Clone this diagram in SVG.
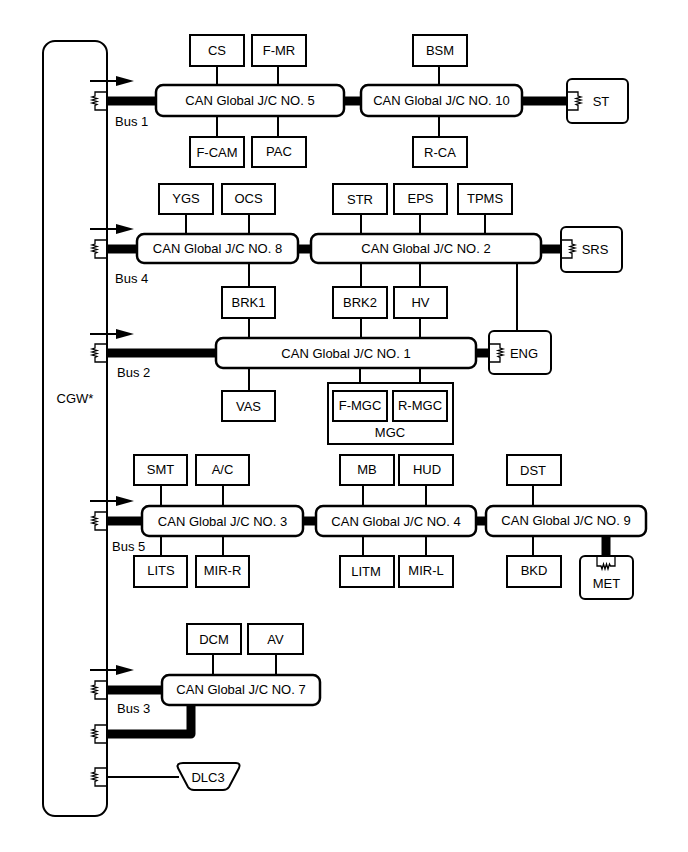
<svg xmlns="http://www.w3.org/2000/svg" width="688" height="852" viewBox="0 0 688 852">
<defs>
<style>
text{font-family:"Liberation Sans",Arial,sans-serif;font-size:13px;fill:#000;}
.c{text-anchor:middle;}
.box{fill:#fff;stroke:#000;stroke-width:2;}
.jc{fill:#fff;stroke:#000;stroke-width:2.5;}
.ln{fill:none;stroke:#000;stroke-width:2;}
.bus{fill:none;stroke:#000;stroke-width:9;}
.res{fill:none;stroke:#000;stroke-width:1.3;}
</style>
<g id="resL">
<path class="res" d="M12,-9 H0 V-5 L-3,-4 L2,-2.5 L-3,-1 L2,0.5 L-3,2 L2,3.5 L0,4.5 V9 H12"/>
</g>
<g id="resR">
<path class="res" d="M0,-9 H11 V-5 L14,-4 L9,-2.5 L14,-1 L9,0.5 L14,2 L9,3.5 L11,4.5 V9 H0"/>
</g>
<g id="arrow">
<line x1="90" y1="0" x2="120" y2="0" stroke="#000" stroke-width="2"/>
<polygon points="116,-5 134,0 116,5" fill="#000"/>
</g>
</defs>
<rect width="688" height="852" fill="#fff"/>

<g id="CGW">
<rect class="box" x="43" y="41" width="64" height="775" rx="12"/>
<text x="75" y="403" class="c">CGW*</text>
<use href="#resL" x="95" y="101"/>
<use href="#resL" x="95" y="249"/>
<use href="#resL" x="95" y="353"/>
<use href="#resL" x="95" y="521"/>
<use href="#resL" x="95" y="690"/>
<use href="#resL" x="95" y="734"/>
<use href="#resL" x="95" y="777"/>
</g>

<g id="connectors">
<!-- thick bus lines -->
<line class="bus" x1="107" y1="101" x2="157" y2="101"/>
<line class="bus" x1="343" y1="101" x2="362" y2="101"/>
<line class="bus" x1="521" y1="101" x2="568" y2="101"/>
<line class="bus" x1="107" y1="249" x2="138" y2="249"/>
<line class="bus" x1="297" y1="249" x2="312" y2="249"/>
<line class="bus" x1="540" y1="249" x2="562" y2="249"/>
<line class="bus" x1="107" y1="353" x2="217" y2="353"/>
<line class="bus" x1="475" y1="353" x2="490" y2="353"/>
<line class="bus" x1="107" y1="521" x2="143" y2="521"/>
<line class="bus" x1="302" y1="521" x2="317" y2="521"/>
<line class="bus" x1="475" y1="521" x2="487" y2="521"/>
<line class="bus" x1="606" y1="535" x2="606" y2="557"/>
<line class="bus" x1="107" y1="690" x2="163" y2="690"/>
<path class="bus" d="M107,734 H191 V704" stroke-linejoin="round"/>
<line class="ln" x1="107" y1="777" x2="179" y2="777"/>
<!-- thin stubs -->
<line class="ln" x1="217" y1="66" x2="217" y2="85"/>
<line class="ln" x1="278" y1="66" x2="278" y2="85"/>
<line class="ln" x1="217" y1="116" x2="217" y2="137"/>
<line class="ln" x1="278" y1="116" x2="278" y2="137"/>
<line class="ln" x1="439" y1="66" x2="439" y2="85"/>
<line class="ln" x1="439" y1="116" x2="439" y2="137"/>
<line class="ln" x1="186" y1="214" x2="186" y2="234"/>
<line class="ln" x1="249" y1="214" x2="249" y2="234"/>
<line class="ln" x1="361" y1="214" x2="361" y2="234"/>
<line class="ln" x1="420" y1="214" x2="420" y2="234"/>
<line class="ln" x1="485" y1="214" x2="485" y2="234"/>
<line class="ln" x1="249" y1="263" x2="249" y2="287"/>
<line class="ln" x1="361" y1="263" x2="361" y2="287"/>
<line class="ln" x1="420" y1="263" x2="420" y2="287"/>
<line class="ln" x1="517" y1="263" x2="517" y2="331"/>
<line class="ln" x1="249" y1="318" x2="249" y2="338"/>
<line class="ln" x1="361" y1="318" x2="361" y2="338"/>
<line class="ln" x1="420" y1="318" x2="420" y2="338"/>
<line class="ln" x1="249" y1="368" x2="249" y2="391"/>
<line class="ln" x1="360" y1="368" x2="360" y2="391"/>
<line class="ln" x1="420" y1="368" x2="420" y2="391"/>
<line class="ln" x1="161" y1="485" x2="161" y2="506"/>
<line class="ln" x1="223" y1="485" x2="223" y2="506"/>
<line class="ln" x1="363" y1="485" x2="363" y2="506"/>
<line class="ln" x1="426" y1="485" x2="426" y2="506"/>
<line class="ln" x1="533" y1="485" x2="533" y2="506"/>
<line class="ln" x1="161" y1="536" x2="161" y2="556"/>
<line class="ln" x1="223" y1="536" x2="223" y2="556"/>
<line class="ln" x1="363" y1="536" x2="363" y2="556"/>
<line class="ln" x1="426" y1="536" x2="426" y2="556"/>
<line class="ln" x1="533" y1="536" x2="533" y2="556"/>
<line class="ln" x1="213" y1="654" x2="213" y2="675"/>
<line class="ln" x1="276" y1="654" x2="276" y2="675"/>
<!-- arrows -->
<use href="#arrow" y="81"/>
<use href="#arrow" y="229"/>
<use href="#arrow" y="334"/>
<use href="#arrow" y="501"/>
<use href="#arrow" y="670"/>
</g>

<g id="bus-labels">
<text x="115" y="126">Bus 1</text>
<text x="115" y="283">Bus 4</text>
<text x="117" y="377">Bus 2</text>
<text x="112" y="551">Bus 5</text>
<text x="117" y="713">Bus 3</text>
</g>

<g id="JC5"><rect class="jc" x="156" y="85" width="188" height="31" rx="7"/><text x="250" y="105" class="c">CAN Global J/C NO. 5</text></g>
<g id="JC10"><rect class="jc" x="361" y="85" width="161" height="31" rx="7"/><text x="441.5" y="105" class="c">CAN Global J/C NO. 10</text></g>
<g id="CS"><rect class="box" x="190" y="35" width="54" height="31"/><text x="217" y="55" class="c">CS</text></g>
<g id="F-MR"><rect class="box" x="252" y="35" width="54" height="31"/><text x="279" y="55" class="c">F-MR</text></g>
<g id="F-CAM"><rect class="box" x="190" y="137" width="54" height="30"/><text x="217" y="157" class="c">F-CAM</text></g>
<g id="PAC"><rect class="box" x="252" y="137" width="54" height="30"/><text x="279" y="156" class="c">PAC</text></g>
<g id="BSM"><rect class="box" x="413" y="35" width="54" height="31"/><text x="440" y="55" class="c">BSM</text></g>
<g id="R-CA"><rect class="box" x="413" y="137" width="54" height="30"/><text x="440" y="157" class="c">R-CA</text></g>
<g id="ST"><rect class="box" x="567" y="79" width="61" height="44" rx="5"/><use href="#resR" x="567" y="101"/><text x="601" y="106" class="c">ST</text></g>

<g id="JC8"><rect class="jc" x="137" y="234" width="161" height="29" rx="7"/><text x="217.5" y="253" class="c">CAN Global J/C NO. 8</text></g>
<g id="JC2"><rect class="jc" x="311" y="234" width="230" height="29" rx="7"/><text x="426" y="253" class="c">CAN Global J/C NO. 2</text></g>
<g id="YGS"><rect class="box" x="159" y="184" width="54" height="30"/><text x="186" y="203" class="c">YGS</text></g>
<g id="OCS"><rect class="box" x="222" y="184" width="53" height="30"/><text x="248.5" y="203" class="c">OCS</text></g>
<g id="STR"><rect class="box" x="333" y="184" width="54" height="30"/><text x="360" y="204" class="c">STR</text></g>
<g id="EPS"><rect class="box" x="394" y="184" width="53" height="30"/><text x="420.5" y="203" class="c">EPS</text></g>
<g id="TPMS"><rect class="box" x="458" y="184" width="54" height="30"/><text x="485" y="203" class="c">TPMS</text></g>
<g id="BRK1"><rect class="box" x="222" y="287" width="53" height="31"/><text x="248.5" y="307" class="c">BRK1</text></g>
<g id="BRK2"><rect class="box" x="333" y="287" width="54" height="31"/><text x="360" y="307" class="c">BRK2</text></g>
<g id="HV"><rect class="box" x="394" y="287" width="53" height="31"/><text x="420.5" y="307" class="c">HV</text></g>
<g id="SRS"><rect class="box" x="561" y="227" width="61" height="45" rx="5"/><use href="#resR" x="561" y="249"/><text x="595" y="254" class="c">SRS</text></g>

<g id="JC1"><rect class="jc" x="216" y="338" width="260" height="30" rx="7"/><text x="346" y="358" class="c">CAN Global J/C NO. 1</text></g>
<g id="ENG"><rect class="box" x="489" y="331" width="62" height="43" rx="5"/><use href="#resR" x="489" y="353"/><text x="524" y="358" class="c">ENG</text></g>
<g id="VAS"><rect class="box" x="222" y="391" width="53" height="30"/><text x="248.5" y="411" class="c">VAS</text></g>
<g id="MGC">
<rect class="box" x="328" y="383" width="125" height="61" stroke-width="1.8"/>
<text x="390" y="437" class="c">MGC</text>
<g id="F-MGC"><rect class="box" x="333" y="391" width="54" height="30"/><text x="360" y="410" class="c">F-MGC</text></g>
<g id="R-MGC"><rect class="box" x="393" y="391" width="54" height="30"/><text x="420" y="410" class="c">R-MGC</text></g>
</g>

<g id="JC3"><rect class="jc" x="142" y="506" width="161" height="30" rx="7"/><text x="222.5" y="526" class="c">CAN Global J/C NO. 3</text></g>
<g id="JC4"><rect class="jc" x="316" y="506" width="160" height="30" rx="7"/><text x="396" y="526" class="c">CAN Global J/C NO. 4</text></g>
<g id="JC9"><rect class="jc" x="486" y="506" width="160" height="30" rx="7"/><text x="566" y="525" class="c">CAN Global J/C NO. 9</text></g>
<g id="SMT"><rect class="box" x="134" y="455" width="53" height="30"/><text x="160.5" y="474" class="c">SMT</text></g>
<g id="A-C"><rect class="box" x="196" y="455" width="53" height="30"/><text x="222.5" y="474" class="c">A/C</text></g>
<g id="MB"><rect class="box" x="340" y="455" width="54" height="30"/><text x="367" y="474" class="c">MB</text></g>
<g id="HUD"><rect class="box" x="399" y="455" width="54" height="30"/><text x="427" y="474" class="c">HUD</text></g>
<g id="DST"><rect class="box" x="507" y="455" width="54" height="30"/><text x="533" y="475" class="c">DST</text></g>
<g id="LITS"><rect class="box" x="134" y="556" width="53" height="31"/><text x="161" y="575" class="c">LITS</text></g>
<g id="MIR-R"><rect class="box" x="196" y="556" width="53" height="31"/><text x="222.5" y="575" class="c">MIR-R</text></g>
<g id="LITM"><rect class="box" x="340" y="556" width="54" height="31"/><text x="366" y="576" class="c">LITM</text></g>
<g id="MIR-L"><rect class="box" x="399" y="556" width="54" height="31"/><text x="426" y="575" class="c">MIR-L</text></g>
<g id="BKD"><rect class="box" x="507" y="556" width="54" height="31"/><text x="534" y="575" class="c">BKD</text></g>
<g id="MET"><rect class="box" x="580" y="556" width="53" height="43" rx="5"/>
<path class="res" d="M597,557 V566 H601 L602,569 L603.5,564 L605,569 L606.5,564 L608,569 L609.5,564 L610.5,566 H615 V557"/>
<text x="606.5" y="588" class="c">MET</text></g>

<g id="JC7"><rect class="jc" x="162" y="675" width="158" height="30" rx="7"/><text x="241" y="694" class="c">CAN Global J/C NO. 7</text></g>
<g id="DCM"><rect class="box" x="187" y="624" width="54" height="30"/><text x="214" y="644" class="c">DCM</text></g>
<g id="AV"><rect class="box" x="248" y="624" width="55" height="30"/><text x="275.5" y="644" class="c">AV</text></g>
<g id="DLC3"><path class="box" d="M183,763 H236 Q241,763 239,768 L229,787 Q227,790 223,790 H194 Q190,790 188,787 L178,768 Q176,763 183,763 Z"/><text x="208" y="782" class="c">DLC3</text></g>
</svg>
